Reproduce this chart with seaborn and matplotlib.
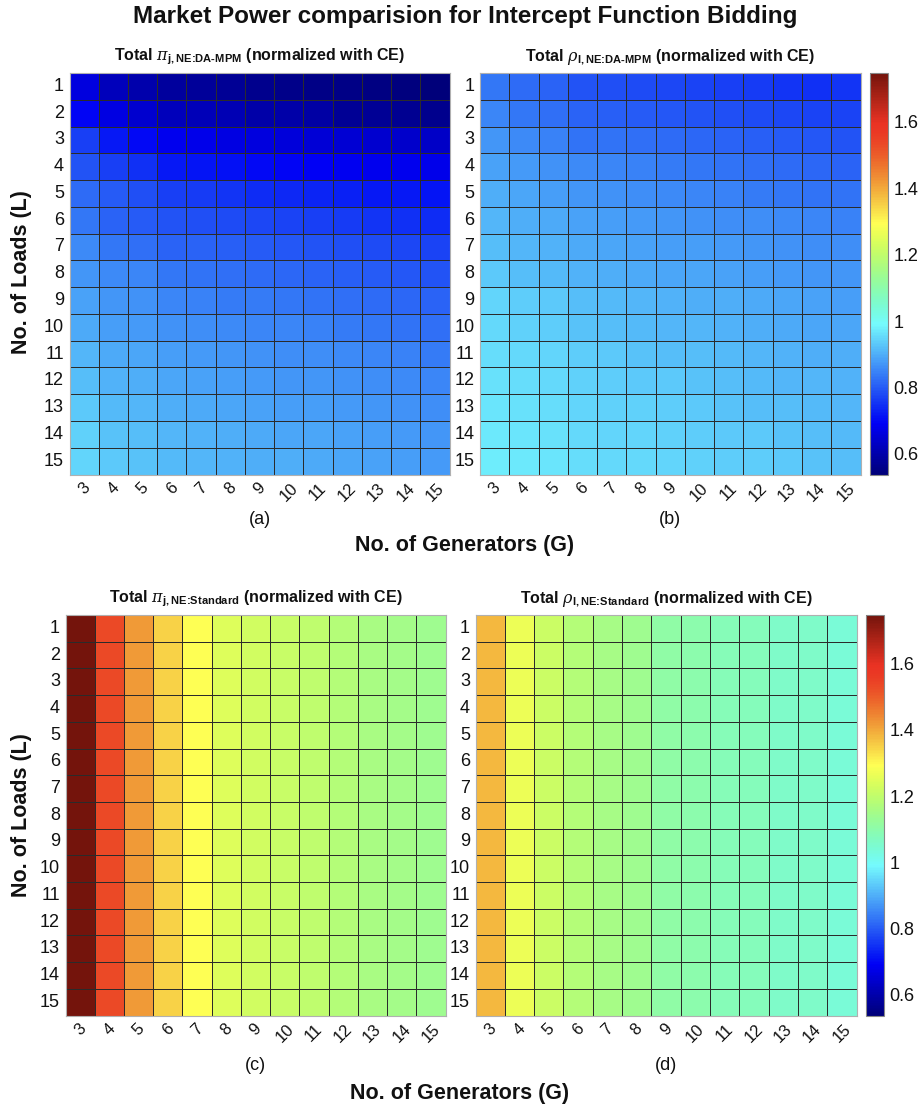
import numpy as np
import pandas as pd
import matplotlib
matplotlib.use("Agg")
import matplotlib.pyplot as plt
from matplotlib.colors import ListedColormap
import seaborn as sns

sns.set_style("white")
plt.rcParams['font.family'] = ['Liberation Sans', 'DejaVu Sans']
plt.rcParams['mathtext.fontset'] = 'custom'
plt.rcParams['mathtext.rm'] = 'Liberation Sans:bold'
plt.rcParams['mathtext.bf'] = 'Liberation Sans:bold'
plt.rcParams['mathtext.it'] = 'DejaVu Serif:italic'
for k in ['text.color', 'axes.labelcolor', 'xtick.color', 'ytick.color']:
    plt.rcParams[k] = '#111111'

# ---------------- data ----------------
generators = list(range(3, 16))   # columns (G)
loads = list(range(1, 16))        # rows (L)

# (a) Total pi_{j,NE:DA-MPM} normalized with CE
pi_dampm = [
    [0.665, 0.620, 0.600, 0.585, 0.580, 0.575, 0.565, 0.560, 0.555, 0.553, 0.548, 0.545, 0.538],
    [0.695, 0.668, 0.644, 0.620, 0.615, 0.610, 0.598, 0.595, 0.590, 0.575, 0.572, 0.570, 0.565],
    [0.765, 0.720, 0.700, 0.680, 0.675, 0.670, 0.665, 0.660, 0.655, 0.650, 0.645, 0.640, 0.635],
    [0.790, 0.765, 0.750, 0.720, 0.715, 0.710, 0.700, 0.695, 0.690, 0.685, 0.680, 0.680, 0.675],
    [0.820, 0.800, 0.785, 0.765, 0.760, 0.755, 0.745, 0.740, 0.735, 0.730, 0.720, 0.720, 0.715],
    [0.835, 0.810, 0.800, 0.790, 0.785, 0.780, 0.775, 0.770, 0.765, 0.760, 0.755, 0.750, 0.745],
    [0.855, 0.835, 0.825, 0.810, 0.810, 0.805, 0.800, 0.795, 0.790, 0.785, 0.780, 0.775, 0.770],
    [0.870, 0.855, 0.850, 0.835, 0.830, 0.825, 0.820, 0.815, 0.810, 0.805, 0.800, 0.795, 0.790],
    [0.885, 0.870, 0.865, 0.850, 0.845, 0.840, 0.840, 0.835, 0.830, 0.825, 0.820, 0.815, 0.810],
    [0.895, 0.880, 0.875, 0.865, 0.860, 0.855, 0.850, 0.850, 0.845, 0.840, 0.835, 0.830, 0.825],
    [0.910, 0.895, 0.890, 0.880, 0.875, 0.870, 0.865, 0.860, 0.860, 0.855, 0.850, 0.845, 0.840],
    [0.920, 0.905, 0.900, 0.890, 0.885, 0.880, 0.875, 0.870, 0.870, 0.865, 0.860, 0.855, 0.850],
    [0.930, 0.915, 0.910, 0.900, 0.895, 0.890, 0.885, 0.880, 0.880, 0.875, 0.870, 0.865, 0.860],
    [0.940, 0.925, 0.920, 0.910, 0.905, 0.900, 0.895, 0.890, 0.890, 0.885, 0.880, 0.875, 0.870],
    [0.945, 0.930, 0.925, 0.915, 0.910, 0.905, 0.900, 0.900, 0.895, 0.890, 0.885, 0.880, 0.875],
]

# (b) Total rho_{l,NE:DA-MPM} normalized with CE
rho_dampm = [
    [0.835, 0.820, 0.810, 0.790, 0.785, 0.780, 0.775, 0.770, 0.765, 0.760, 0.755, 0.750, 0.755],
    [0.850, 0.835, 0.825, 0.810, 0.805, 0.800, 0.795, 0.790, 0.785, 0.780, 0.775, 0.770, 0.770],
    [0.870, 0.855, 0.845, 0.830, 0.830, 0.825, 0.820, 0.815, 0.810, 0.805, 0.800, 0.795, 0.790],
    [0.885, 0.875, 0.865, 0.855, 0.850, 0.845, 0.840, 0.835, 0.830, 0.825, 0.820, 0.815, 0.810],
    [0.900, 0.890, 0.880, 0.870, 0.865, 0.860, 0.855, 0.850, 0.845, 0.840, 0.835, 0.830, 0.830],
    [0.910, 0.900, 0.895, 0.885, 0.880, 0.875, 0.870, 0.865, 0.860, 0.860, 0.855, 0.850, 0.845],
    [0.920, 0.910, 0.905, 0.895, 0.890, 0.885, 0.880, 0.880, 0.875, 0.870, 0.865, 0.860, 0.860],
    [0.930, 0.920, 0.915, 0.905, 0.900, 0.895, 0.890, 0.890, 0.885, 0.880, 0.875, 0.870, 0.870],
    [0.945, 0.935, 0.930, 0.920, 0.915, 0.910, 0.905, 0.900, 0.900, 0.895, 0.890, 0.885, 0.880],
    [0.950, 0.940, 0.935, 0.925, 0.920, 0.915, 0.910, 0.910, 0.905, 0.900, 0.895, 0.890, 0.890],
    [0.955, 0.950, 0.945, 0.935, 0.930, 0.925, 0.920, 0.920, 0.915, 0.910, 0.905, 0.900, 0.900],
    [0.960, 0.955, 0.950, 0.940, 0.935, 0.930, 0.930, 0.925, 0.920, 0.915, 0.910, 0.910, 0.905],
    [0.965, 0.960, 0.955, 0.945, 0.940, 0.940, 0.935, 0.930, 0.925, 0.920, 0.920, 0.915, 0.910],
    [0.970, 0.965, 0.960, 0.950, 0.945, 0.945, 0.940, 0.935, 0.930, 0.930, 0.925, 0.920, 0.915],
    [0.975, 0.970, 0.965, 0.955, 0.950, 0.950, 0.945, 0.940, 0.935, 0.935, 0.930, 0.925, 0.920],
]

# (c), (d): every load row shows the same value per generator column
pi_standard_by_G = [1.747, 1.530, 1.420, 1.348, 1.290, 1.245, 1.224, 1.209, 1.197, 1.176, 1.160, 1.148, 1.138]
rho_standard_by_G = [1.380, 1.270, 1.218, 1.176, 1.153, 1.138, 1.109, 1.099, 1.085, 1.079, 1.061, 1.058, 1.040]

pi_standard = [list(pi_standard_by_G) for _ in loads]
rho_standard = [list(rho_standard_by_G) for _ in loads]

titles = [
    r"Total $\pi_{\mathbf{j,NE}\text{:}\mathbf{DA}\text{-}\mathbf{MPM}}$ (normalized with CE)",
    r"Total $\rho_{\mathbf{l,NE}\text{:}\mathbf{DA}\text{-}\mathbf{MPM}}$ (normalized with CE)",
    r"Total $\pi_{\mathbf{j,NE}\text{:}\mathbf{Standard}}$ (normalized with CE)",
    r"Total $\rho_{\mathbf{l,NE}\text{:}\mathbf{Standard}}$ (normalized with CE)",
]
panel_letters = ["(a)", "(b)", "(c)", "(d)"]
cbar_ticks = [0.6, 0.8, 1.0, 1.2, 1.4, 1.6]
cbar_ticklabels = ["0.6", "0.8", "1", "1.2", "1.4", "1.6"]

# ---------------- colormap: MATLAB-style jet as rendered in the reference ----------------
t = np.linspace(0, 1, 256)
jet_rgb = np.stack([np.clip(1.5 - np.abs(4 * t - 3), 0, 1),
                    np.clip(1.5 - np.abs(4 * t - 2), 0, 1),
                    np.clip(1.5 - np.abs(4 * t - 1), 0, 1)], axis=1)

def srgb_to_lin(c):
    return np.where(c <= 0.04045, c / 12.92, ((c + 0.055) / 1.055) ** 2.4)

def lin_to_srgb(c):
    c = np.clip(c, 0, 1)
    return np.where(c <= 0.0031308, 12.92 * c, 1.055 * c ** (1 / 2.4) - 0.055)

M = np.array([[0.8225, 0.1774, 0.0],
              [0.0332, 0.9669, 0.0],
              [0.0171, 0.0724, 0.9108]])
cmap_rgb = lin_to_srgb(srgb_to_lin(jet_rgb) @ M.T)
cmap = ListedColormap(np.clip(cmap_rgb, 0, 1), name="jet_ref")

# ---------------- figure ----------------
W, H = 924, 1111
fig = plt.figure(figsize=(W / 100, H / 100), dpi=100)
fig.patch.set_facecolor("white")

def px_axes(l, t, r, b):
    return fig.add_axes([l / W, 1 - b / H, (r - l) / W, (b - t) / H])

boxes = [(69.5, 73, 449.5, 474.5), (480, 73, 860.5, 474.5),
         (65.5, 615, 445.5, 1015.5), (475.5, 615, 856.5, 1015.5)]
cbar_boxes = [(870, 73, 888, 474.5), (866, 615, 884, 1015.5)]

datasets = [pi_dampm, rho_dampm, pi_standard, rho_standard]
allvals = np.concatenate([np.ravel(d) for d in datasets])
vmin, vmax = allvals.min(), allvals.max()

for i, (data, box) in enumerate(zip(datasets, boxes)):
    ax = px_axes(*box)
    df = pd.DataFrame(data, index=loads, columns=generators)
    has_cbar = i in (1, 3)
    if has_cbar:
        cax = px_axes(*cbar_boxes[i // 2])
        kw = dict(cbar=True, cbar_ax=cax)
    else:
        kw = dict(cbar=False)
    sns.heatmap(df, ax=ax, cmap=cmap, vmin=vmin, vmax=vmax,
                linewidths=0.6, linecolor="#2b2b2b", square=False, **kw)
    for s in ax.spines.values():
        s.set_visible(True)
        s.set_color("#b0b0b0")
        s.set_linewidth(0.8)
    ax.set_xlabel("")
    ax.set_ylabel("")
    ax.set_yticklabels([str(v) for v in loads], rotation=0, fontsize=13)
    ax.set_xticklabels([str(v) for v in generators], rotation=45,
                       fontsize=12, ha="center", va="top")
    ax.tick_params(axis="both", length=0, pad=4)
    ax.set_title(titles[i], fontsize=11.5, fontweight="bold", pad=9)
    if has_cbar:
        cax.set_yticks(cbar_ticks)
        cax.set_yticklabels(cbar_ticklabels, fontsize=13)
        cax.tick_params(length=4, width=0.8, direction="in", pad=4)
        cax.yaxis.set_ticks_position("right")
        cb = ax.collections[0].colorbar
        cb.outline.set_edgecolor("#888888")
        cb.outline.set_linewidth(0.8)
    cx = (box[0] + box[2]) / 2
    ly = 520 if i < 2 else 1065
    fig.text(cx / W, 1 - ly / H, panel_letters[i], ha="center", va="center",
             fontsize=13)

fig.text(465 / W, 1 - 17 / H, "Market Power comparision for Intercept Function Bidding",
         ha="center", va="center", fontsize=17.5, fontweight="bold")
fig.text(465 / W, 1 - 546 / H, "No. of Generators (G)", ha="center", va="center",
         fontsize=15.5, fontweight="bold")
fig.text(460 / W, 1 - 1093 / H, "No. of Generators (G)", ha="center", va="center",
         fontsize=15.5, fontweight="bold")
fig.text(22 / W, 1 - 272 / H, "No. of Loads (L)", ha="center", va="center",
         rotation=90, fontsize=15.5, fontweight="bold")
fig.text(22 / W, 1 - 815 / H, "No. of Loads (L)", ha="center", va="center",
         rotation=90, fontsize=15.5, fontweight="bold")

fig.savefig("out.png", dpi=100, facecolor="white")
